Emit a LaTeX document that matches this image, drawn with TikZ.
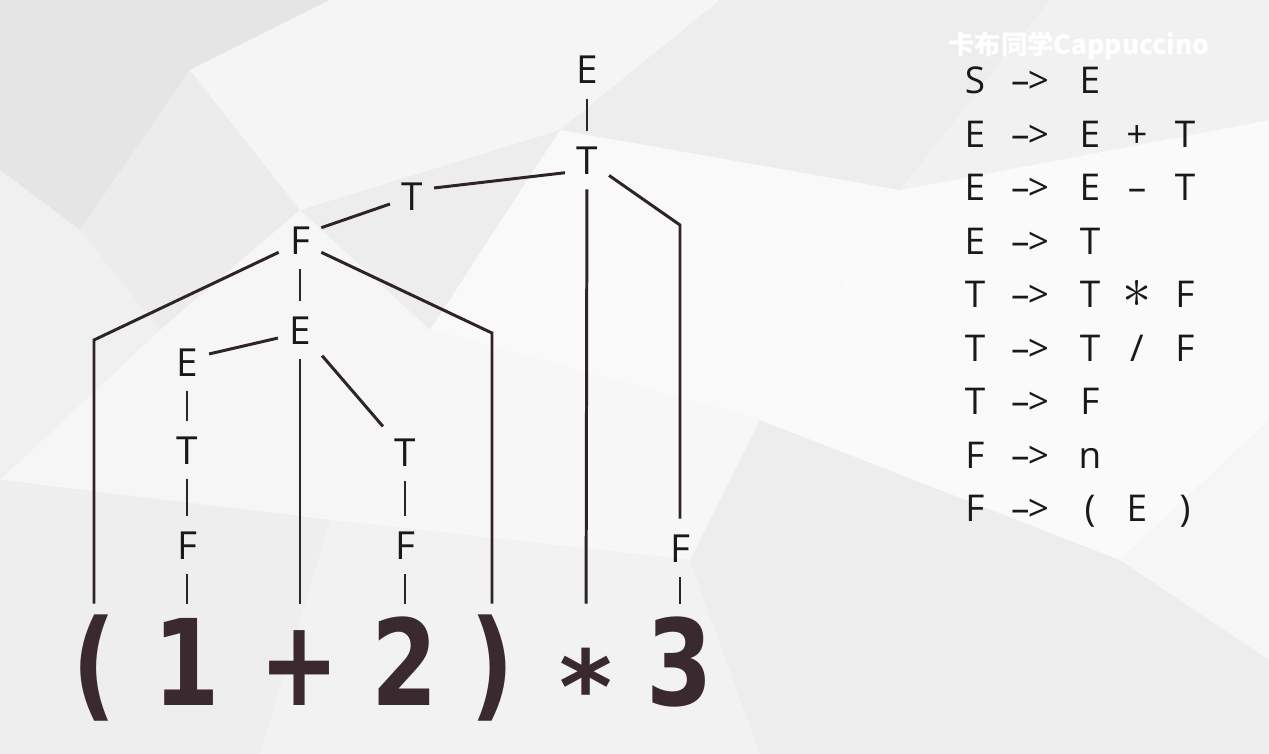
\documentclass[tikz,border=0pt]{standalone}
\usepackage{graphicx}
\usepackage{fontspec}
\setmainfont{Open Sans}
\newfontfamily\exprfont{DejaVu Sans}
\newfontfamily\cjk{Noto Sans CJK SC}
\newcommand\divsym{/}
\newcommand\narrow[1]{\scalebox{0.8}[1]{#1}}
\definecolor{ink}{HTML}{2E2427}
\definecolor{exprcol}{HTML}{3A2A2F}
\definecolor{bgcol}{HTML}{EDEDED}
\tikzset{>=stealth}
\tikzset{
  sym/.style={font=\fontsize{22}{24}\selectfont, text=black!90, text height=0.56cm, text depth=0cm, inner xsep=0.22cm, inner ysep=0.3cm},
  tok/.style={font=\exprfont\bfseries\fontsize{68}{70}\selectfont, text=exprcol, anchor=base, text height=2.02cm, text depth=0cm, inner sep=0pt},
  gram/.style={font=\fontsize{21}{23}\selectfont, text=black!90, text height=0.54cm, text depth=0cm},
  link/.style={ink, line width=1.7pt},
  facet/.style={draw=none}
}

\begin{document}
\begin{tikzpicture}[x=0.02cm, y=-0.02cm]
    \useasboundingbox (0,0) rectangle (1269,754);
    \fill[bgcol] (0,0) rectangle (1269,754);
    \fill[facet, gray!20] (0,0) -- (330,0) -- (190,70) -- (80,230) -- (0,170) -- cycle;
    \fill[facet, gray!15] (80,230) -- (190,70) -- (300,210) -- (160,330) -- cycle;
    \fill[facet, gray!8] (330,0) -- (720,0) -- (560,130) -- (300,210) -- (190,70) -- cycle;
    \fill[facet, gray!14] (720,0) -- (1050,0) -- (900,190) -- (560,130) -- cycle;
    \fill[facet, gray!5] (560,130) -- (900,190) -- (760,420) -- (430,330) -- cycle;
    \fill[facet, gray!4] (900,190) -- (1269,120) -- (1269,420) -- (1120,560) -- (760,420) -- cycle;
    \fill[facet, gray!11] (1050,0) -- (1269,0) -- (1269,120) -- (900,190) -- cycle;
    \fill[facet, gray!12] (0,170) -- (80,230) -- (160,330) -- (0,480) -- cycle;
    \fill[facet, gray!7] (160,330) -- (300,210) -- (430,330) -- (330,520) -- (0,480) -- cycle;
    \fill[facet, gray!6] (430,330) -- (760,420) -- (690,560) -- (330,520) -- cycle;
    \fill[facet, gray!13] (0,480) -- (330,520) -- (260,754) -- (0,754) -- cycle;
    \fill[facet, gray!10] (330,520) -- (690,560) -- (760,754) -- (260,754) -- cycle;
    \fill[facet, gray!14] (690,560) -- (1120,560) -- (1269,660) -- (1269,754) -- (760,754) -- cycle;
    \fill[facet, gray!7] (1120,560) -- (1269,420) -- (1269,660) -- cycle;

    \node[font=\cjk\bfseries\fontsize{15}{17}\selectfont, text=white] (mark) at (1079,46) {卡布同学Cappuccino};

    \node[tok] (lp) at (94,705) {\narrow{(}};
    \node[tok] (one) at (187,705) {\narrow{1}};
    \node[tok] (plus) at (300,705) {\narrow{+}};
    \node[tok] (two) at (405,705) {\narrow{2}};
    \node[tok] (rp) at (492,705) {\narrow{)}};
    \node[tok] (times) at (586,705) {\raisebox{-0.36cm}{\scalebox{0.85}{*}}};
    \node[tok] (three) at (680,705) {\narrow{3}};

    \node[sym] (e0) at (587,70) {E};
    \node[sym] (t0) at (587,160) {T};
    \node[sym] (t1) at (412,196) {T};
    \node[sym] (f1) at (300,240) {F};
    \node[sym] (e1) at (300,330) {E};
    \node[sym] (e2) at (187,362) {E};
    \node[sym] (t2) at (187,450) {T};
    \node[sym] (f2) at (187,545) {F};
    \node[sym] (t3) at (405,452) {T};
    \node[sym] (f3) at (405,545) {F};
    \node[sym] (f4) at (680,548) {F};

    \coordinate (cl) at (lp |- 0,340);
    \coordinate (cr) at (rp |- 0,333);
    \coordinate (cf) at (three |- 0,225);

    \draw[link] (e0) -- (t0);
    \draw[link] (t1.20) -- (t0.210);
    \draw[link] (t0.-35) -- (cf) -- (f4);
    \draw[link] (f4) -- (three);
    \draw[link] (t0) -- (times);
    \draw[link] (t1.200) -- (f1.30);
    \draw[link] (f1.210) -- (cl) -- (lp);
    \draw[link] (f1) -- (e1);
    \draw[link] (f1.-30) -- (cr) -- (rp);
    \draw[link] (e1.200) -- (e2.20);
    \draw[link] (e1) -- (plus);
    \draw[link] (e1) -- (t3);
    \draw[link] (e2) -- (t2);
    \draw[link] (t2) -- (f2);
    \draw[link] (f2) -- (one);
    \draw[link] (t3) -- (f3);
    \draw[link] (f3) -- (two);

    \foreach \lhs/\symA/\symB/\symC [count=\i] in {S/E//, E/E/+/T, E/E/--/T, E/T//, T/T/\scalebox{1.6}{$\ast$}/F, T/T/\divsym/F, T/F//, F/n//, F/(/E/)} {
        \node[gram] (l\i) at (975,{80+53.5*(\i-1)}) {\lhs};
        \node[gram] (a\i) at (1030,{80+53.5*(\i-1)}) {--\kern-1pt>};
        \node[gram] (r\i) at (1090,{80+53.5*(\i-1)}) {\symA};
        \node[gram] (s\i) at (1137,{80+53.5*(\i-1)}) {\symB};
        \node[gram] (u\i) at (1185,{80+53.5*(\i-1)}) {\symC};
    }
\end{tikzpicture}
\end{document}
